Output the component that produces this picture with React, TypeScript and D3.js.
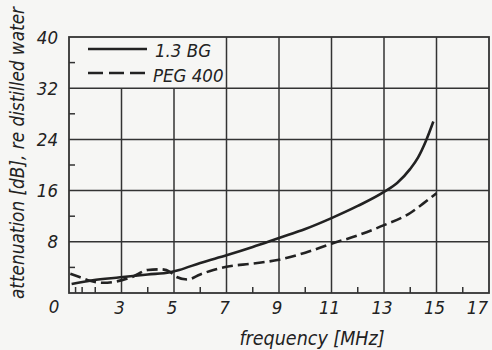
import React from "react";
import * as d3 from "d3";

const W = 492;
const H = 350;

const xDomain = [1, 17];
const yDomain = [0, 40];
const xTicks = [3, 5, 7, 9, 11, 13, 15, 17];
const xMinorTicks = [1.25, 1.5, 2, 4, 6, 8, 10, 12, 14, 16];
const yTicks = [8, 16, 24, 32, 40];
const yMinorTicks = [4, 12, 20, 28, 36];
const series1Name = "1.3 BG";
const series2Name = "PEG 400";
const bgX = [1.1, 1.9, 2.95, 4.0, 4.85, 5.2, 6.0, 7.0, 8.0, 9.0, 10.0, 11.0, 12.0, 13.0, 13.5, 14.0, 14.3, 14.6, 14.88];
const bgY = [1.4, 2.0, 2.45, 2.9, 3.25, 3.6, 4.7, 5.9, 7.2, 8.6, 10.0, 11.7, 13.6, 15.8, 17.2, 19.4, 21.2, 23.8, 26.8];
const pegX = [1.05, 1.4, 1.8, 2.3, 2.8, 3.4, 4.0, 4.5, 4.85, 5.1, 5.5, 6.0, 6.5, 7.0, 8.0, 9.0, 10.0, 11.0, 12.0, 13.0, 14.0, 14.5, 15.0];
const pegY = [3.0, 2.5, 1.9, 1.6, 1.8, 2.5, 3.6, 3.7, 3.3, 2.5, 2.1, 2.9, 3.6, 4.1, 4.6, 5.2, 6.3, 7.7, 9.0, 10.6, 12.5, 14.0, 15.6];

const FONT = "'DejaVu Sans', sans-serif";
const INK = "#222";

export default function App() {
  const x = d3.scaleLinear().domain(xDomain).range([69, 489]);
  const y = d3.scaleLinear().domain(yDomain).range([293, 37]);
  const line = d3
    .line<[number, number]>()
    .x((d) => x(d[0]))
    .y((d) => y(d[1]))
    .curve(d3.curveMonotoneX);
  const bg = bgX.map((v, i) => [v, bgY[i]] as [number, number]);
  const peg = pegX.map((v, i) => [v, pegY[i]] as [number, number]);
  const textStyle: React.CSSProperties = {
    fontFamily: FONT,
    fontStretch: "condensed",
    fontStyle: "oblique",
  };
  return (
    <svg
      width={W}
      height={H}
      style={{ position: "absolute", left: 0, top: 0, background: "#f6f6f4" }}
    >
      <g stroke="#333" strokeWidth={1.5} fill="none">
        {yTicks.slice(0, -1).map((t) => (
          <line key={"h" + t} x1={x(1)} x2={x(17)} y1={y(t)} y2={y(t)} />
        ))}
        {xTicks.slice(0, -1).map((t) => (
          <line key={"v" + t} x1={x(t)} x2={x(t)} y1={y(0)} y2={t < 7 ? y(32) : y(40)} />
        ))}
        {xMinorTicks.map((t) => (
          <line key={"mx" + t} x1={x(t)} x2={x(t)} y1={y(0)} y2={y(0) - 6} />
        ))}
        {yMinorTicks.map((t) => (
          <line key={"my" + t} x1={x(1)} x2={x(1) + 6} y1={y(t)} y2={y(t)} />
        ))}
        <rect x={x(1)} y={y(40)} width={x(17) - x(1)} height={y(0) - y(40)} strokeWidth={1.8} />
      </g>
      <path d={line(bg) || ""} fill="none" stroke={INK} strokeWidth={2.6} />
      <path d={line(peg) || ""} fill="none" stroke={INK} strokeWidth={2.6} strokeDasharray="11,5" />
      <g fill={INK} style={textStyle} fontSize={18.5}>
        {yTicks.map((t) => (
          <text key={"yl" + t} x={58} y={y(t)} dy="0.36em" textAnchor="end">
            {t}
          </text>
        ))}
        <text x={54} y={306} dy="0.36em" textAnchor="middle">0</text>
        {xTicks.map((t) => (
          <text
            key={"xl" + t}
            x={t === 17 ? 488 : x(t) - 2}
            y={307}
            dy="0.36em"
            textAnchor={t === 17 ? "end" : "middle"}
          >
            {t}
          </text>
        ))}
        <text x={312} y={338} dy="0.36em" textAnchor="middle" fontSize={19.5}>
          frequency [MHz]
        </text>
        <text transform={`translate(17,299) rotate(-90)`} dy="0.36em" textAnchor="start" fontSize={18.8}>
          attenuation [dB], re distilled water
        </text>
        <line x1={88} x2={147} y1={49} y2={49} stroke={INK} strokeWidth={2.6} />
        <text x={155} y={50} dy="0.36em">{series1Name}</text>
        <line x1={88} x2={147} y1={73} y2={73} stroke={INK} strokeWidth={2.6} strokeDasharray="15,6" />
        <text x={153} y={75} dy="0.36em">{series2Name}</text>
      </g>
    </svg>
  );
}
